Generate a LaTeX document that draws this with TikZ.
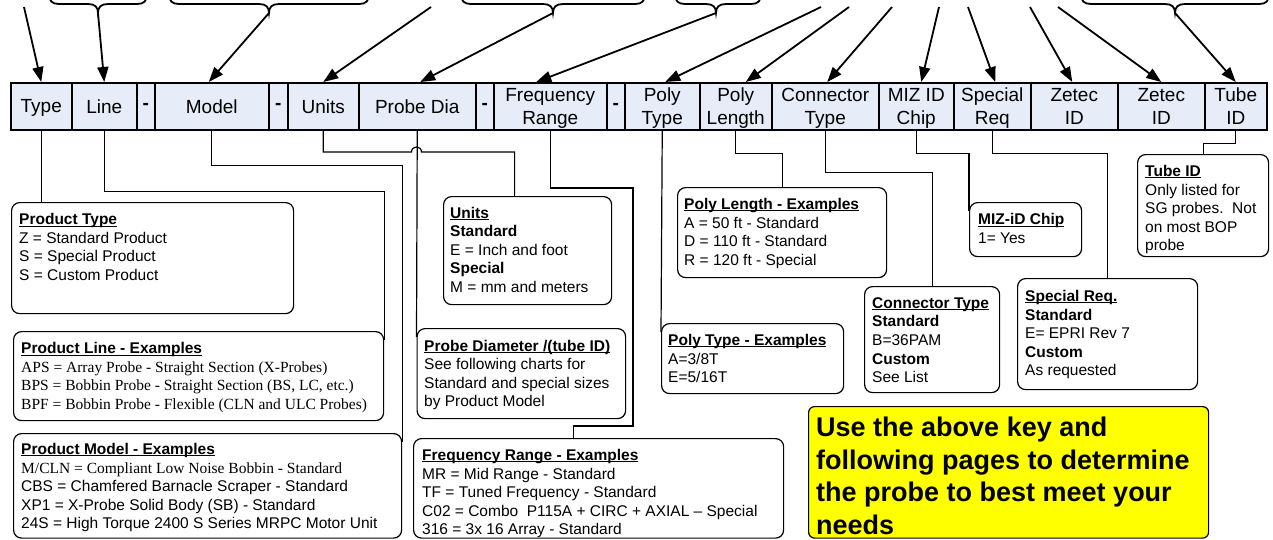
\documentclass[tikz,border=0pt]{standalone}
\usepackage{fontspec}
\setmainfont{Liberation Sans}
\newfontfamily\tnr{Liberation Serif}
\usetikzlibrary{arrows.meta,calc}
\definecolor{barfill}{RGB}{230,236,248}
\definecolor{noteyellow}{RGB}{255,255,0}
\tikzset{
  cell/.style={draw=black, line width=1.5pt, fill=barfill, inner sep=0pt, minimum height=47pt, anchor=north west, align=center, text depth=0pt, font=\fontsize{19}{22.5}\selectfont},
  box/.style={draw=black, line width=1.2pt, rounded corners=8pt, inner sep=0pt, anchor=north west},
  txt/.style={anchor=north west, inner sep=0pt, align=left, font=\fontsize{15.5}{18.6}\selectfont},
  conn/.style={draw=black, line width=1.2pt},
  arr/.style={draw=black, line width=1.8pt, -{Triangle[length=15pt,width=11pt]}},
  brace/.style={draw=black, line width=1.8pt},
}
\newsavebox{\ttlbox}
\newcommand{\ttl}[1]{\sbox{\ttlbox}{\textbf{#1}}\rlap{\rule[-1.9pt]{\wd\ttlbox}{1.1pt}}\usebox{\ttlbox}}
\begin{document}
\begin{tikzpicture}[x=1pt,y=-1pt]
\useasboundingbox (0,0) rectangle (1273,539);
% ---- key bar
\node[cell, minimum width=61pt]  (type)  at (10,82)   {Type};
\node[cell, minimum width=65pt]  (line)  at (71,82)   {Line};
\node[cell, minimum width=18pt]  (d1)    at (136,82)  {\textbf{-}};
\node[cell, minimum width=114pt] (model) at (154,82)  {Model};
\node[cell, minimum width=19pt]  (d2)    at (268,82)  {\textbf{-}};
\node[cell, minimum width=71pt]  (units) at (287,82)  {Units};
\node[cell, minimum width=117pt] (probe) at (358,82)  {Probe Dia};
\node[cell, minimum width=18pt]  (d3)    at (475,82)  {\textbf{-}};
\node[cell, minimum width=113pt] (freq)  at (493,82)  {Frequency\\Range};
\node[cell, minimum width=18pt]  (d4)    at (606,82)  {\textbf{-}};
\node[cell, minimum width=75pt]  (ptype) at (624,82)  {Poly\\Type};
\node[cell, minimum width=72pt]  (plen)  at (699,82)  {Poly\\Length};
\node[cell, minimum width=107pt] (conn)  at (771,82)  {Connector\\Type};
\node[cell, minimum width=75pt]  (miz)   at (878,82)  {MIZ ID\\Chip};
\node[cell, minimum width=77pt]  (spec)  at (953,82)  {Special\\Req};
\node[cell, minimum width=87pt]  (zetA)  at (1030,82) {Zetec\\ID};
\node[cell, minimum width=87pt]  (zetB)  at (1117,82) {Zetec\\ID};
\node[cell, minimum width=62pt]  (tube)  at (1204,82) {Tube\\ID};
% ---- braces at top
\draw[brace] (49,-6) .. controls (49,1) and (52,4) .. (59,4) -- (88,4) .. controls (95,4) and (98,7) .. (98,13) .. controls (98,7) and (101,4) .. (108,4) -- (137,4) .. controls (144,4) and (147,1) .. (147,-6);
\draw[brace] (169,-6) .. controls (169,1) and (172,4) .. (179,4) -- (259,4) .. controls (266,4) and (269,7) .. (269,13) .. controls (269,7) and (272,4) .. (279,4) -- (359,4) .. controls (366,4) and (369,1) .. (369,-6);
\draw[brace] (461,-6) .. controls (461,1) and (464,4) .. (471,4) -- (543,4) .. controls (550,4) and (553,7) .. (553,13) .. controls (553,7) and (556,4) .. (563,4) -- (635,4) .. controls (642,4) and (645,1) .. (645,-6);
\draw[brace] (675,-6) .. controls (675,1) and (678,4) .. (685,4) -- (706,4) .. controls (713,4) and (716,7) .. (716,13) .. controls (716,7) and (719,4) .. (726,4) -- (751,4) .. controls (758,4) and (761,1) .. (761,-6);
\draw[brace] (1081,-6) .. controls (1081,1) and (1084,4) .. (1091,4) -- (1165,4) .. controls (1172,4) and (1175,7) .. (1175,13) .. controls (1175,7) and (1178,4) .. (1185,4) -- (1259,4) .. controls (1266,4) and (1269,1) .. (1269,-6);
% ---- arrow origins
\coordinate (a1) at (24,7);
\coordinate (a2) at (98,13);
\coordinate (a3) at (269,13);
\coordinate (a4) at (431,7);
\coordinate (a5) at (553,13);
\coordinate (a6) at (716,13);
\coordinate (a7) at (821,7);
\coordinate (a8) at (849,7);
\coordinate (a9) at (892,7);
\coordinate (a10) at (939,7);
\coordinate (a11) at (968,7);
\coordinate (a12) at (1030,7);
\coordinate (a13) at (1058,7);
\coordinate (a14) at (1175,13);
\draw[arr] (a1) -- (type.north);
\draw[arr] (a2) -- (line.north);
\draw[arr] (a3) -- ([xshift=-3pt]model.north);
\draw[arr] (a4) -- (units.north);
\draw[arr] (a5) -- ([xshift=3pt]probe.north);
\draw[arr] (a6) -- ([xshift=-14pt]freq.north);
\draw[arr] (a7) -- ([xshift=3pt]ptype.north);
\draw[arr] (a8) -- ([xshift=10pt]plen.north);
\draw[arr] (a9) -- ([xshift=2pt]conn.north);
\draw[arr] (a10) -- ([xshift=5pt]miz.north);
\draw[arr] (a11) -- ([xshift=3pt]spec.north);
\draw[arr] (a12) -- ([xshift=-2pt]zetA.north);
\draw[arr] (a13) -- (zetB.north);
\draw[arr] (a14) -- (tube.north);
% ---- description boxes
\node[box, minimum width=282pt, minimum height=111pt]   (ptyB) at (11,202) {};
\node[box, minimum width=370pt, minimum height=89pt]    (plB)  at (13,331) {};
\node[box, minimum width=388pt, minimum height=104.5pt] (pmB)  at (13,433) {};
\node[box, minimum width=168pt, minimum height=108pt]   (unB)  at (443,196) {};
\node[box, minimum width=208.5pt, minimum height=90pt]  (prB)  at (416.5,328) {};
\node[box, minimum width=370pt, minimum height=99.5pt]  (frB)  at (413,438) {};
\node[box, minimum width=209pt, minimum height=90pt]    (plnB) at (677,187) {};
\node[box, minimum width=182pt, minimum height=70pt]    (ptB)  at (661,323) {};
\node[box, minimum width=135pt, minimum height=106pt]   (cnB)  at (864,286) {};
\node[box, minimum width=112pt, minimum height=54pt]    (mzB)  at (969,202) {};
\node[box, minimum width=180pt, minimum height=111pt]   (spB)  at (1017,278) {};
\node[box, minimum width=131pt, minimum height=102pt]   (tbB)  at (1137,154) {};
\node[box, fill=noteyellow, rounded corners=6pt, minimum width=400pt, minimum height=131.5pt] (noteB) at (808,406) {};
% ---- texts
\node[txt] (ptyT) at (19,213.3) {\ttl{Product Type}\\Z = Standard Product\\S = Special Product\\S = Custom Product};
\node[txt] (plT) at (21,342.3) {\ttl{Product Line - Examples}\\{\tnr APS = Array Probe - Straight Section (X-Probes)}\\{\tnr BPS = Bobbin Probe - Straight Section (BS, LC, etc.)}\\{\tnr BPF = Bobbin Probe - Flexible (CLN and ULC Probes)}};
\node[txt] (pmT) at (21,443) {\ttl{Product Model - Examples}\\{\tnr M/CLN = Compliant Low Noise Bobbin - Standard}\\CBS = Chamfered Barnacle Scraper - Standard\\XP1 = X-Probe Solid Body (SB) - Standard\\24S = High Torque 2400 S Series MRPC Motor Unit};
\node[txt] (unT) at (450,206.7) {\ttl{Units}\\\textbf{Standard}\\E = Inch and foot\\\textbf{Special}\\M = mm and meters};
\node[txt] (prT) at (424,339.7) {\ttl{Probe Diameter /(tube ID)}\\See following charts for\\Standard and special sizes\\by Product Model};
\node[txt] (frT) at (422,449) {\ttl{Frequency Range - Examples}\\MR = Mid Range - Standard\\TF = Tuned Frequency - Standard\\C02 = Combo\ \ P115A + CIRC + AXIAL -- Special\\316 = 3x 16 Array - Standard};
\node[txt] (plnT) at (684,198) {\ttl{Poly Length - Examples}\\A = 50 ft - Standard\\D = 110 ft - Standard\\R = 120 ft - Special};
\node[txt] (ptT) at (668,334) {\ttl{Poly Type - Examples}\\A=3/8T\\E=5/16T};
\node[txt] (cnT) at (872,297.3) {\ttl{Connector Type}\\\textbf{Standard}\\B=36PAM\\\textbf{Custom}\\See List};
\node[txt] (mzT) at (978,213.3) {\ttl{MIZ-iD Chip}\\1= Yes};
\node[txt] (spT) at (1025,290) {\ttl{Special Req.}\\\textbf{Standard}\\E= EPRI Rev 7\\\textbf{Custom}\\As requested};
\node[txt] (tbT) at (1145,165) {\ttl{Tube ID}\\Only listed for\\SG probes.\ \ Not\\on most BOP\\probe};
\node[txt, font=\fontsize{27}{32.5}\selectfont\bfseries] (noteT) at (816,417) {Use the above key and\\following pages to determine\\the probe to best meet your\\needs};
% ---- connectors from the key to the boxes
\coordinate (f1) at (633,188);
\coordinate (f2) at (633,426);
\coordinate (h1) at (411.5,152);
\draw[conn] (type.south) -- (type.south |- ptyB.north);
\draw[conn] (line.south) -- ++(0,61) -| ($(plB.north east)+(0,9)$);
\draw[conn] (model.south) -- ++(0,35) -| ($(pmB.north east)+(0,9)$);
\draw[conn] (units.south) |- (h1) .. controls (411.5,145.3) and (421.5,145.3) .. (421.5,152) -| ([xshift=-13pt]unB.north);
\draw[conn] (probe.south) -- ($(prB.north west)+(0,9)$);
\draw[conn] (freq.south) |- (f1) -- (f2) -| ([xshift=-25pt]frB.north);
\draw[conn] (ptype.south) -- ($(ptB.north west)+(0,9)$);
\draw[conn] (plen.south) -- ++(0,23) -| (plnB.north);
\draw[conn] (conn.south) -- ++(0,42) -| (cnB.north);
\draw[conn] (miz.south) -- ++(0,23) -| ($(mzB.north west)+(0,9)$);
\draw[conn] (spec.south) -- ++(0,23) -| (spB.north);
\draw[conn] (tube.south) -- ++(0,13) -| (tbB.north);
\end{tikzpicture}
\end{document}
